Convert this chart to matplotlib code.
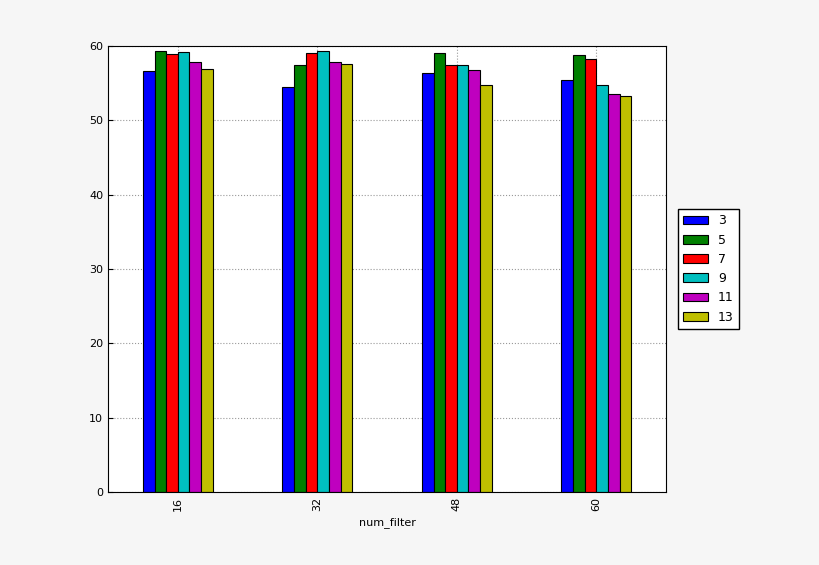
import matplotlib
matplotlib.use('Agg')
import matplotlib.pyplot as plt
import numpy as np

groups = ['16', '32', '48', '60']
series = ['3', '5', '7', '9', '11', '13']
vals_3 = [56.6, 54.5, 56.4, 55.4]
vals_5 = [59.3, 57.4, 59.0, 58.8]
vals_7 = [58.9, 59.0, 57.4, 58.3]
vals_9 = [59.2, 59.3, 57.4, 54.8]
vals_11 = [57.8, 57.8, 56.8, 53.6]
vals_13 = [56.9, 57.6, 54.8, 53.3]
colors = ['#0000ff', '#008000', '#ff0000', '#00bfbf', '#bf00bf', '#bfbf00']

data = [vals_3, vals_5, vals_7, vals_9, vals_11, vals_13]

fig = plt.figure(figsize=(8.2, 5.65), dpi=100, facecolor='#f6f6f6')
ax = fig.add_axes([108 / 820, 1 - 492 / 565, 558 / 820, 446 / 565])
ax.set_axisbelow(True)
x = np.arange(len(groups))
w = 0.5 / len(series)
for i, (name, v) in enumerate(zip(series, data)):
    ax.bar(x + (i - 2.5) * w, v, w, color=colors[i], edgecolor='black',
           linewidth=0.8, label=name)

ax.set_xticks(x)
ax.set_xticklabels(groups, rotation=90, fontsize=8)
ax.set_xlim(-0.5, 3.5)
ax.set_ylim(0, 60)
ax.set_yticks(range(0, 61, 10))
ax.tick_params(axis='y', labelsize=8)
ax.tick_params(direction='in')
ax.grid(True, linestyle=':', color='#999999', linewidth=0.8)
ax.set_xlabel('num_filter', fontsize=8)
ax.legend(loc='center left', bbox_to_anchor=(1.01, 0.5), fontsize=9,
          fancybox=False, edgecolor='black', framealpha=1)

fig.savefig('out.png', dpi=100, facecolor=fig.get_facecolor())
